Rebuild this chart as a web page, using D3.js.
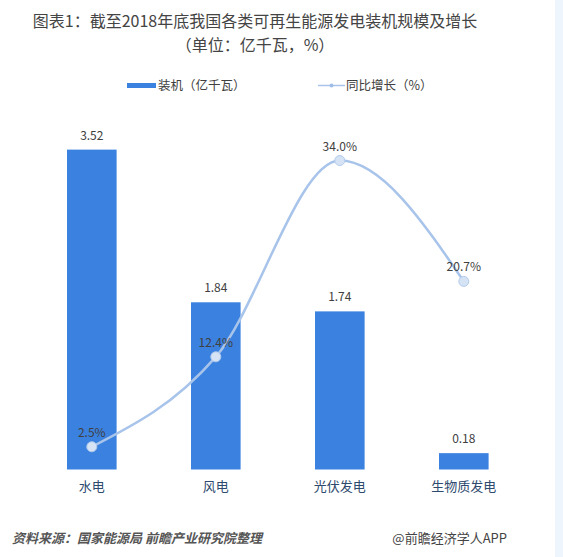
<!DOCTYPE html>
<html>
<head>
<meta charset="utf-8">
<script src="https://cdn.jsdelivr.net/npm/d3@7"></script>
<style>
  body { margin: 0; background: #fff; }
  svg { display: block; font-family: "Noto Sans CJK SC", "Noto Sans", sans-serif; }
</style>
</head>
<body>
<svg width="563" height="557"></svg>
<script>
// data
var categories = ["水电", "风电", "光伏发电", "生物质发电"];
var capacity = [3.52, 1.84, 1.74, 0.18];      // 亿千瓦
var growth = [2.5, 12.4, 34.0, 20.7];         // %
var titleLines = ["图表1：截至2018年底我国各类可再生能源发电装机规模及增长", "（单位：亿千瓦，%）"];

var svg = d3.select("svg"),
    width = +svg.attr("width"),
    height = +svg.attr("height");

var barColor = "#3b82e0",
    lineColor = "#a8c4ea",
    textColor = "#404040";

// right edge strip
svg.append("rect")
    .attr("x", 555).attr("y", 0)
    .attr("width", 8).attr("height", height)
    .attr("fill", "#eef5fc");

// watermarks
var marks = [[150, 240], [330, 320], [480, 250], [200, 470], [420, 470]];
svg.append("g").selectAll("text")
    .data(marks)
    .enter()
    .append("text")
    .attr("transform", function (d) { return "translate(" + d[0] + "," + d[1] + ") rotate(-40)"; })
    .attr("text-anchor", "middle")
    .attr("font-size", 26)
    .attr("font-weight", "bold")
    .attr("fill", "#000")
    .attr("fill-opacity", 0.018)
    .text("前瞻产业研究院");

// title
svg.append("g").selectAll("text")
    .data(titleLines)
    .enter()
    .append("text")
    .attr("x", 255)
    .attr("y", function (d, i) { return 27 + i * 23.5; })
    .attr("text-anchor", "middle")
    .attr("font-size", 16)
    .attr("fill", "#444")
    .text(function (d) { return d; });

// scales
var x = d3.scaleBand()
    .domain(categories)
    .range([42.2, 513.4])
    .paddingInner(0.6)
    .paddingOuter(0.2);

var y = d3.scaleLinear().domain([0, 4]).range([469.5, 106]);
var y2 = d3.scaleLinear().domain([0, 40]).range([469.5, 106]);

// bars
svg.append("g").selectAll("rect")
    .data(capacity)
    .enter()
    .append("rect")
    .attr("x", function (d, i) { return x(categories[i]); })
    .attr("y", function (d) { return y(d); })
    .attr("width", x.bandwidth())
    .attr("height", function (d) { return y(0) - y(d); })
    .attr("fill", barColor);

svg.append("g").selectAll("text")
    .data(capacity)
    .enter()
    .append("text")
    .attr("x", function (d, i) { return x(categories[i]) + x.bandwidth() / 2; })
    .attr("y", function (d) { return y(d) - 10; })
    .attr("text-anchor", "middle")
    .attr("font-size", 12)
    .attr("fill", textColor)
    .text(function (d) { return d.toFixed(2); });

// category axis labels
var xAxis = svg.append("g")
    .attr("transform", "translate(0," + y(0) + ")")
    .call(d3.axisBottom(x).tickSize(0).tickPadding(12));
xAxis.select(".domain").remove();
xAxis.selectAll("text")
    .attr("font-size", 13)
    .attr("font-family", "Noto Sans CJK SC, sans-serif")
    .attr("fill", "#2e4a6e");

// growth line
var pts = growth.map(function (d, i) {
    return [x(categories[i]) + x.bandwidth() / 2, y2(d)];
});

svg.append("path")
    .datum(pts)
    .attr("d", d3.line().curve(d3.curveMonotoneX))
    .attr("fill", "none")
    .attr("stroke", lineColor)
    .attr("stroke-width", 2.5);

svg.append("g").selectAll("circle")
    .data(pts)
    .enter()
    .append("circle")
    .attr("cx", function (d) { return d[0]; })
    .attr("cy", function (d) { return d[1]; })
    .attr("r", 5)
    .attr("fill", "#d6e3f5")
    .attr("stroke", "#b3cbec")
    .attr("stroke-width", 1);

svg.append("g").selectAll("text")
    .data(growth)
    .enter()
    .append("text")
    .attr("x", function (d, i) { return pts[i][0]; })
    .attr("y", function (d, i) { return pts[i][1] - 10; })
    .attr("text-anchor", "middle")
    .attr("font-size", 12)
    .attr("fill", textColor)
    .text(function (d) { return d.toFixed(1) + "%"; });

// legend
var legend = svg.append("g").attr("font-size", 12.5).attr("fill", textColor);
legend.append("rect")
    .attr("x", 127).attr("y", 83)
    .attr("width", 29).attr("height", 5)
    .attr("fill", barColor);
legend.append("text")
    .attr("x", 158).attr("y", 90)
    .text("装机（亿千瓦）");
legend.append("line")
    .attr("x1", 318).attr("x2", 345)
    .attr("y1", 85.5).attr("y2", 85.5)
    .attr("stroke", lineColor)
    .attr("stroke-width", 1.5);
legend.append("circle")
    .attr("cx", 331.5).attr("cy", 85.5).attr("r", 2)
    .attr("fill", "#9fbde8");
legend.append("text")
    .attr("x", 346).attr("y", 90)
    .text("同比增长（%）");

// footer
svg.append("text")
    .attr("x", 12).attr("y", 543)
    .attr("font-size", 13)
    .attr("font-style", "italic")
    .attr("font-weight", "bold")
    .attr("fill", "#555")
    .text("资料来源：国家能源局 前瞻产业研究院整理");

svg.append("text")
    .attr("x", 507).attr("y", 543)
    .attr("text-anchor", "end")
    .attr("font-size", 13)
    .attr("fill", "#444")
    .text("@前瞻经济学人APP");
</script>
</body>
</html>
